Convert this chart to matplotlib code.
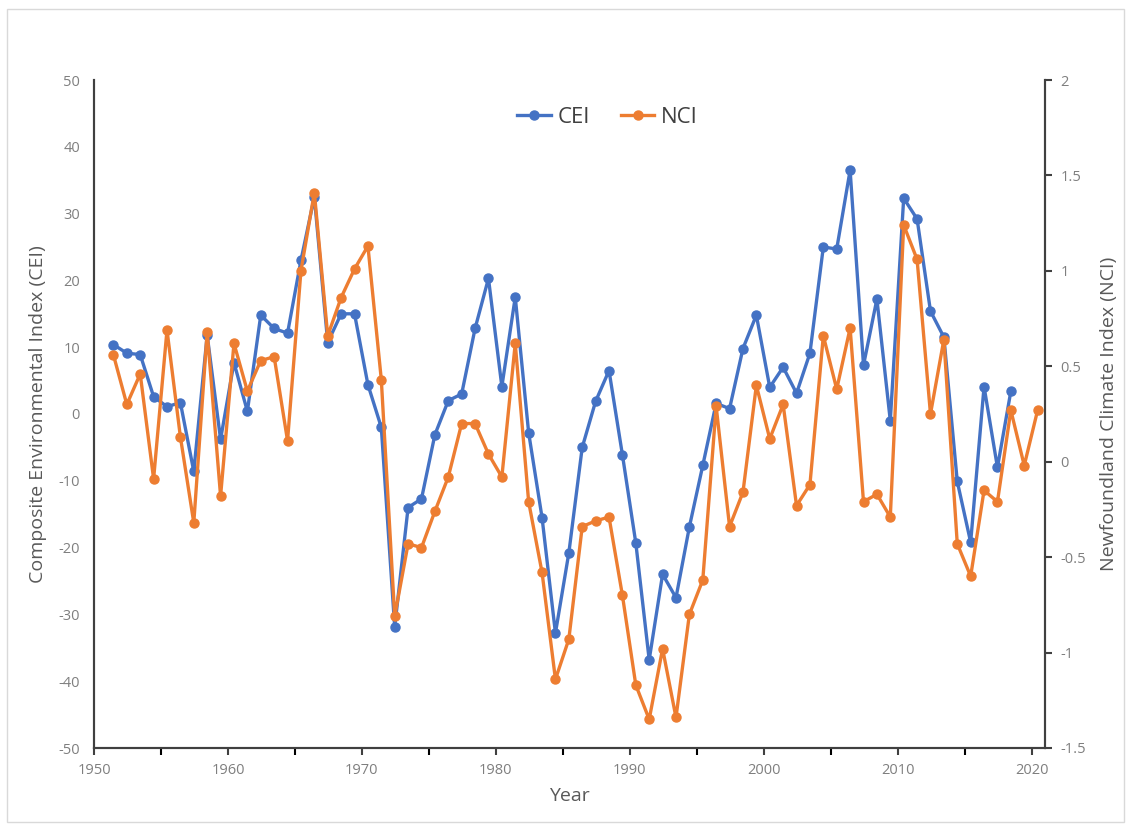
#!/usr/bin/env python3
"""
CEI vs NCI time series, 1951-2020, on twin y axes.
Saves out.png
"""
import matplotlib
matplotlib.use('Agg')
import matplotlib.pyplot as plt
from matplotlib.patches import Rectangle
from matplotlib.ticker import MultipleLocator, FuncFormatter

plt.rcParams['font.family'] = ['Open Sans', 'DejaVu Sans']
plt.rcParams['axes.unicode_minus'] = False

BLUE = '#4472C4'
ORANGE = '#ED7D31'
GREY_TXT = '#7f7f7f'
AX_COL = '#404040'

cei_years = list(range(1951, 2019))
cei = [10.4, 9.1, 8.9, 2.6, 1.1, 1.7, -8.6, 11.8, -3.8, 7.7,
       0.4, 14.8, 12.8, 12.1, 23.0, 32.5, 10.7, 15.0, 15.0, 4.4,
       -2.0, -31.9, -14.0, -12.7, -3.1, 2.0, 3.0, 12.8, 20.3, 4.1,
       17.5, -2.8, -15.5, -32.8, -20.8, -5.0, 1.9, 6.5, -6.1, -19.3,
       -36.8, -24.0, -27.5, -16.9, -7.7, 1.6, 0.8, 9.8, 14.8, 4.0,
       7.0, 3.1, 9.1, 25.0, 24.7, 36.5, 7.3, 17.2, -1.0, 32.3,
       29.2, 15.4, 11.5, -10.1, -19.2, 4.1, -8.0, 3.4]

nci_years = list(range(1951, 2021))
nci = [0.56, 0.30, 0.46, -0.09, 0.69, 0.13, -0.32, 0.68, -0.18, 0.62,
       0.37, 0.53, 0.55, 0.11, 1.00, 1.41, 0.66, 0.86, 1.01, 1.13,
       0.43, -0.81, -0.43, -0.45, -0.26, -0.08, 0.20, 0.20, 0.04, -0.08,
       0.62, -0.21, -0.58, -1.14, -0.93, -0.34, -0.31, -0.29, -0.70, -1.17,
       -1.35, -0.98, -1.34, -0.80, -0.62, 0.29, -0.34, -0.16, 0.40, 0.12,
       0.30, -0.23, -0.12, 0.66, 0.38, 0.70, -0.21, -0.17, -0.29, 1.24,
       1.06, 0.25, 0.64, -0.43, -0.60, -0.15, -0.21, 0.27, -0.02, 0.27]

# annual values are plotted near mid-year
MID = 0.45


def style_ticks(ax):
    ax.tick_params(colors=AX_COL, labelcolor=GREY_TXT, labelsize=10.5)


fig = plt.figure(figsize=(11.27, 8.25), dpi=100)
fig.patches.append(Rectangle((7 / 1127, 3 / 825), 1117 / 1127, 813 / 825,
                             transform=fig.transFigure, fill=False,
                             edgecolor='#d9d9d9', linewidth=1.0))
ax = fig.add_axes([94 / 1127, 1 - 748 / 825, (1045 - 94) / 1127, (748 - 80) / 825])
ax2 = ax.twinx()

l1, = ax.plot([y + MID for y in cei_years], cei, color=BLUE, lw=2.4,
              marker='o', ms=6.5, label='CEI')
l2, = ax2.plot([y + MID for y in nci_years], nci, color=ORANGE, lw=2.4,
               marker='o', ms=6.5, label='NCI')

ax.set_xlim(1950, 2021)
ax.set_ylim(-50, 50)
ax2.set_ylim(-1.5, 2)

ax.xaxis.set_major_locator(MultipleLocator(10))
ax.xaxis.set_minor_locator(MultipleLocator(5))
ax.yaxis.set_major_locator(MultipleLocator(10))
ax2.yaxis.set_major_locator(MultipleLocator(0.5))
ax2.yaxis.set_major_formatter(FuncFormatter(lambda v, p: f'{v:g}'))

for a in (ax, ax2):
    for s in a.spines.values():
        s.set_color(AX_COL)
        s.set_linewidth(1.5)
    a.spines['top'].set_visible(False)
    style_ticks(a)

ax.tick_params(axis='x', which='both', direction='out', length=5, width=1.5, pad=6)
ax.tick_params(axis='y', length=0, pad=10)
ax2.tick_params(axis='y', direction='out', length=5, width=1.5, pad=6)

ax.set_xlabel('Year', color='#595959', fontsize=14, labelpad=6)
ax.set_ylabel('Composite Environmental Index (CEI)', color='#595959', fontsize=14, labelpad=8)
ax2.set_ylabel('Newfoundland Climate Index (NCI)', color='#595959', fontsize=14, labelpad=10)

leg = ax.legend(handles=[l1, l2], loc='upper center', bbox_to_anchor=(0.54, 0.99),
                ncol=2, frameon=False, fontsize=16, handlelength=1.5,
                columnspacing=1.4, handletextpad=0.3)
for t in leg.get_texts():
    t.set_color('#404040')

fig.savefig('out.png', dpi=100)
